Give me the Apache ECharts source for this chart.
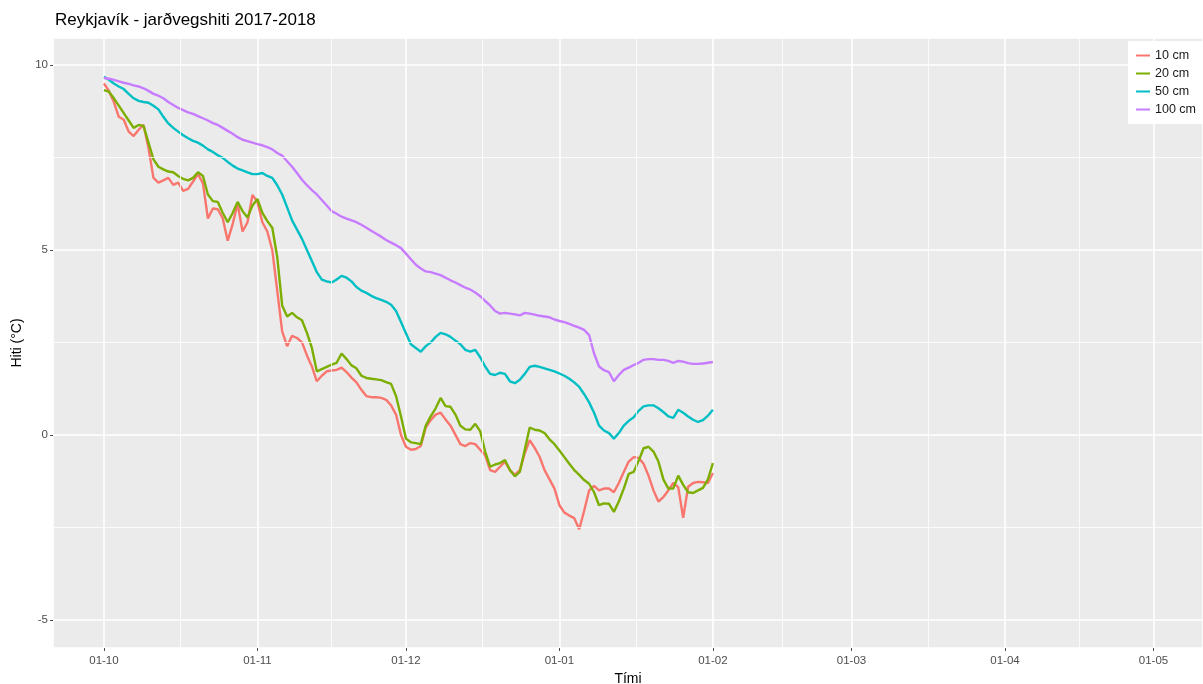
<!DOCTYPE html>
<html>
<head>
<meta charset="utf-8">
<script src="https://cdn.jsdelivr.net/npm/echarts@6/dist/echarts.min.js"></script>
<style>
  html, body { margin: 0; padding: 0; background: #fff; }
  #chart { width: 1203px; height: 684px; }
</style>
</head>
<body>
<div id="chart"></div>
<script>
// daily soil temperature, 1 Oct 2017 .. 1 Feb 2018
const seriesNames = ['10 cm', '20 cm', '50 cm', '100 cm'];
const colors = ['#F8766D', '#7CAE00', '#00BFC4', '#C77CFF'];

const t10 = [9.5, 9.3, 9.0, 8.6, 8.52, 8.2, 8.08, 8.25, 8.38, 7.75,
  6.95, 6.82, 6.88, 6.95, 6.76, 6.82, 6.6, 6.65, 6.85, 7.05,
  6.8, 5.85, 6.12, 6.1, 5.85, 5.25, 5.7, 6.25, 5.5, 5.75,
  6.49, 6.3, 5.75, 5.5, 5.0, 3.9, 2.8, 2.4, 2.68, 2.62,
  2.5, 2.15, 1.85, 1.45, 1.6, 1.72, 1.74, 1.76, 1.82, 1.7,
  1.55, 1.42, 1.22, 1.05, 1.02, 1.02, 1.0, 0.95, 0.8, 0.55,
  0.0, -0.32, -0.4, -0.38, -0.3, 0.2, 0.4, 0.55, 0.6, 0.42,
  0.25, 0.0, -0.25, -0.3, -0.22, -0.25, -0.4, -0.55, -0.95, -1.0,
  -0.86, -0.72, -0.95, -1.08, -0.95, -0.5, -0.14, -0.35, -0.59, -0.95,
  -1.2, -1.45, -1.9, -2.1, -2.18, -2.25, -2.55, -2.05, -1.5, -1.38,
  -1.5, -1.45, -1.45, -1.55, -1.3, -1.0, -0.72, -0.6, -0.62, -0.78,
  -1.1, -1.5, -1.8, -1.68, -1.5, -1.3, -1.41, -2.24, -1.4, -1.3,
  -1.27, -1.28, -1.3, -1.03];

const t20 = [9.32, 9.28, 9.1, 8.9, 8.7, 8.5, 8.3, 8.38, 8.35, 7.9,
  7.45, 7.25, 7.18, 7.12, 7.1, 7.0, 6.92, 6.88, 6.95, 7.1,
  7.0, 6.5, 6.32, 6.3, 6.0, 5.75, 6.0, 6.3, 6.05, 5.88,
  6.2, 6.38, 6.0, 5.78, 5.6, 4.81, 3.5, 3.2, 3.3, 3.18,
  3.1, 2.76, 2.35, 1.72, 1.78, 1.84, 1.9, 1.95, 2.2, 2.05,
  1.88, 1.8, 1.6, 1.54, 1.52, 1.5, 1.48, 1.43, 1.38, 1.05,
  0.5, -0.1, -0.2, -0.22, -0.25, 0.25, 0.5, 0.72, 1.0, 0.78,
  0.76, 0.55, 0.25, 0.15, 0.14, 0.3, 0.1, -0.45, -0.86, -0.8,
  -0.76, -0.68, -0.95, -1.12, -1.0, -0.4, 0.2, 0.14, 0.12, 0.05,
  -0.12, -0.25, -0.42, -0.6, -0.78, -0.95, -1.08, -1.22, -1.32, -1.55,
  -1.9, -1.85, -1.86, -2.08, -1.8, -1.45, -1.05, -1.0, -0.7, -0.36,
  -0.32, -0.45, -0.72, -1.2, -1.45, -1.45, -1.1, -1.35, -1.55, -1.57,
  -1.5, -1.43, -1.2, -0.76];

const t50 = [9.68, 9.6, 9.5, 9.42, 9.35, 9.22, 9.1, 9.03, 9.0, 8.98,
  8.9, 8.8, 8.6, 8.42, 8.3, 8.2, 8.1, 8.02, 7.95, 7.9,
  7.82, 7.72, 7.65, 7.56, 7.49, 7.38, 7.28, 7.2, 7.15, 7.1,
  7.05, 7.05, 7.08, 7.0, 6.95, 6.75, 6.5, 6.15, 5.8, 5.55,
  5.3, 5.0, 4.7, 4.4, 4.2, 4.15, 4.12, 4.2, 4.3, 4.25,
  4.15, 4.0, 3.9, 3.84, 3.76, 3.7, 3.65, 3.6, 3.52, 3.35,
  3.05, 2.75, 2.45, 2.35, 2.25, 2.4, 2.5, 2.65, 2.76, 2.72,
  2.65, 2.55, 2.45, 2.3, 2.25, 2.3, 2.1, 1.85, 1.65, 1.62,
  1.68, 1.65, 1.45, 1.4, 1.49, 1.65, 1.84, 1.87, 1.84, 1.8,
  1.76, 1.72, 1.66, 1.6, 1.52, 1.42, 1.3, 1.1, 0.88, 0.6,
  0.25, 0.12, 0.05, -0.1, 0.05, 0.25, 0.38, 0.48, 0.65, 0.77,
  0.8, 0.8, 0.72, 0.62, 0.5, 0.46, 0.68, 0.6, 0.5, 0.41,
  0.35, 0.4, 0.52, 0.68];

const t100 = [9.65, 9.63, 9.6, 9.56, 9.52, 9.49, 9.45, 9.42, 9.37, 9.3,
  9.22, 9.17, 9.1, 9.0, 8.92, 8.84, 8.78, 8.72, 8.68, 8.62,
  8.56, 8.5, 8.43, 8.38, 8.3, 8.22, 8.14, 8.05, 7.98, 7.94,
  7.9, 7.86, 7.83, 7.78, 7.72, 7.62, 7.55, 7.4, 7.25, 7.08,
  6.9, 6.75, 6.62, 6.5, 6.35, 6.2, 6.05, 5.98, 5.9, 5.85,
  5.8, 5.75, 5.68, 5.6, 5.52, 5.44, 5.36, 5.27, 5.2, 5.13,
  5.05, 4.9, 4.75, 4.6, 4.5, 4.42, 4.4, 4.36, 4.32, 4.25,
  4.18, 4.12, 4.05, 3.98, 3.93, 3.85, 3.75, 3.62, 3.5, 3.35,
  3.28, 3.3, 3.28, 3.26, 3.23, 3.3, 3.28, 3.25, 3.22, 3.2,
  3.18, 3.12, 3.08, 3.05, 3.0, 2.95, 2.9, 2.84, 2.7, 2.2,
  1.85, 1.75, 1.7, 1.45, 1.62, 1.76, 1.82, 1.89, 1.95, 2.03,
  2.05, 2.05, 2.03, 2.03, 2.0, 1.95, 2.0, 1.98, 1.94, 1.92,
  1.92, 1.93, 1.95, 1.97];

// minor grid positions (ggplot style)
const yMinor = [-2.5, 2.5, 7.5];
const xMinor = ['2017-10-16 12:00', '2017-11-16', '2017-12-16 12:00', '2018-01-16 12:00',
  '2018-02-15', '2018-03-16 12:00', '2018-04-16'];

const dayMs = 24 * 3600 * 1000;
function dayTime(i) { return new Date(2017, 9, 1 + i).getTime(); }
function pad(n) { return n < 10 ? '0' + n : '' + n; }

const allData = [t10, t20, t50, t100];
const series = allData.map(function (arr, k) {
  return {
    name: seriesNames[k],
    type: 'line',
    showSymbol: false,
    symbol: 'none',
    lineStyle: { width: 2.4, color: colors[k] },
    itemStyle: { color: colors[k] },
    z: 3,
    data: arr.map(function (v, i) { return [dayTime(i), v]; })
  };
});

series.push({
  name: 'grid-minor',
  type: 'line',
  data: [],
  z: 1,
  silent: true,
  markLine: {
    silent: true,
    symbol: 'none',
    label: { show: false },
    lineStyle: { color: '#ffffff', width: 0.8, type: 'solid' },
    data: yMinor.map(function (v) { return { yAxis: v }; })
      .concat(xMinor.map(function (s) { return { xAxis: new Date(s.replace(' ', 'T')).getTime() }; }))
  }
});

const chart = echarts.init(document.getElementById('chart'));
chart.setOption({
  backgroundColor: '#ffffff',
  animation: false,
  textStyle: { fontFamily: 'Liberation Sans, Arial, sans-serif' },
  title: {
    text: 'Reykjavík - jarðvegshiti 2017-2018',
    left: 50,
    top: 7,
    textStyle: { fontSize: 17, fontWeight: 'normal', color: '#000' }
  },
  legend: {
    data: seriesNames,
    orient: 'vertical',
    left: 1128,
    top: 41,
    icon: 'rect',
    itemWidth: 14,
    itemHeight: 2,
    itemGap: 5,
    padding: [8, 8, 8, 8],
    backgroundColor: '#ffffff',
    textStyle: { fontSize: 12.5, color: '#1a1a1a', lineHeight: 13 }
  },
  grid: {
    left: 53,
    right: 0,
    top: 38,
    bottom: 36,
    outerBoundsMode: 'none',
    show: true,
    backgroundColor: '#EBEBEB',
    borderWidth: 0
  },
  xAxis: {
    type: 'time',
    min: new Date(2017, 8, 20, 17).getTime(),
    max: new Date(2018, 4, 11).getTime(),
    minInterval: 28 * dayMs,
    maxInterval: 31 * dayMs,
    name: 'Tími',
    nameLocation: 'middle',
    nameGap: 21,
    nameTextStyle: { fontSize: 14, color: '#000' },
    axisLine: { show: false, onZero: false },
    axisTick: { show: true, length: 3, lineStyle: { color: '#4d4d4d' } },
    axisLabel: {
      fontSize: 11.5,
      color: '#4d4d4d',
      margin: 7,
      formatter: function (v) {
        const d = new Date(v);
        return d.getDate() === 1 ? '01-' + pad(d.getMonth() + 1) : '';
      }
    },
    splitLine: { show: true, lineStyle: { color: '#ffffff', width: 1.6 } }
  },
  yAxis: {
    type: 'value',
    min: -5.76,
    max: 10.73,
    splitNumber: 3,
    name: 'Hiti (°C)',
    nameLocation: 'middle',
    nameGap: 27,
    nameTextStyle: { fontSize: 14, color: '#000' },
    axisLine: { show: false, onZero: false },
    axisTick: { show: true, length: 3, lineStyle: { color: '#4d4d4d' } },
    axisLabel: { fontSize: 11.5, color: '#4d4d4d', margin: 5, showMinLabel: false, showMaxLabel: false },
    splitLine: { show: true, lineStyle: { color: '#ffffff', width: 1.6 } }
  },
  series: series
});
</script>
</body>
</html>
